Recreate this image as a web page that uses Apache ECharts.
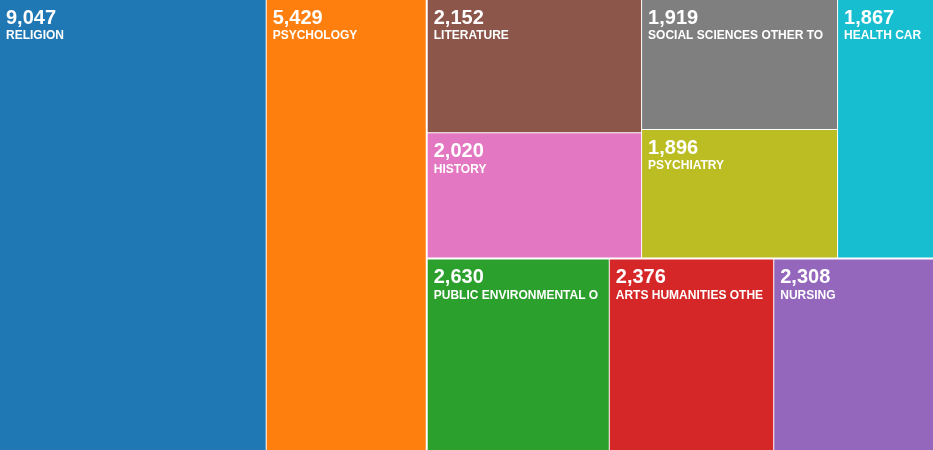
<!DOCTYPE html>
<html><head><meta charset="utf-8">
<script src="https://cdn.jsdelivr.net/npm/echarts@6/dist/echarts.min.js"></script>
<style>html,body{margin:0;padding:0}#chart{width:933px;height:450px}</style>
</head><body><div id="chart"></div>
<script>
const names = ['RELIGION','PSYCHOLOGY','PUBLIC ENVIRONMENTAL OCCUPATIONAL HEALTH','ARTS HUMANITIES OTHER TOPICS','NURSING','LITERATURE','HISTORY','SOCIAL SCIENCES OTHER TOPICS','PSYCHIATRY','HEALTH CARE SCIENCES SERVICES'];
const values = [9047,5429,2630,2376,2308,2152,2020,1919,1896,1867];
const colors = ['#1f77b4','#ff7f0e','#2ca02c','#d62728','#9467bd','#8c564b','#e377c2','#7f7f7f','#bcbd22','#17becf'];
// layout groups (columns in the picture)
const groups = [[0,1],[2,3,4],[5,6,7,8,9]];

const leaf = i => ({ name: names[i], value: values[i], itemStyle: { color: colors[i] } });
const data = groups.map((g, k) => ({
  name: 'g' + k,
  value: g.reduce((s, i) => s + values[i], 0),
  children: g.map(leaf)
}));

const chart = echarts.init(document.getElementById('chart'));
chart.setOption({
  animation: false,
  series: [{
    type: 'treemap',
    left: -1, top: -1, right: -1, bottom: -1,
    roam: false, nodeClick: false,
    breadcrumb: { show: false },
    levels: [
      { itemStyle: { borderWidth: 0, gapWidth: 0 } },
      { itemStyle: { borderWidth: 1, borderColor: '#fff', gapWidth: 1 } }
    ],
    label: {
      show: true, position: 'insideTopLeft', padding: [6, 6],
      overflow: 'truncate', ellipsis: '',
      formatter: p => '{v|' + p.value.toLocaleString('en-US') + '}\n{n|' + p.name + '}',
      rich: {
        v: { fontFamily: 'Arial, Liberation Sans', fontSize: 20, fontWeight: 'bold', color: '#fff', lineHeight: 24 },
        n: { fontFamily: 'Arial, Liberation Sans', fontSize: 12, fontWeight: 'bold', color: '#fff', lineHeight: 12 }
      }
    },
    data: data
  }]
});
</script></body></html>
